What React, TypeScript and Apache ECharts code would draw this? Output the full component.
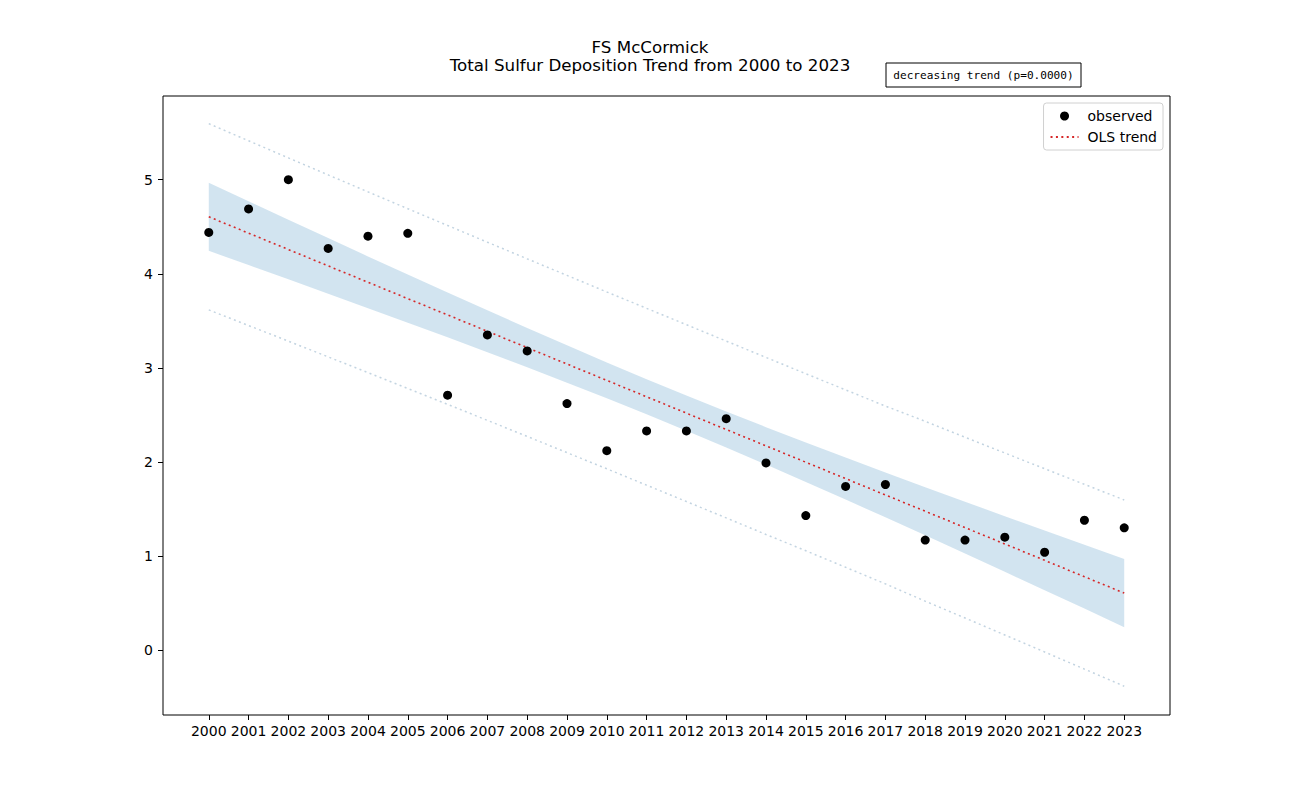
import React, { useEffect, useRef } from "react";
import * as echarts from "echarts";

const years = [2000, 2001, 2002, 2003, 2004, 2005, 2006, 2007, 2008, 2009, 2010, 2011, 2012, 2013, 2014, 2015, 2016, 2017, 2018, 2019, 2020, 2021, 2022, 2023];
const observed = [4.44, 4.69, 5.0, 4.27, 4.40, 4.43, 2.71, 3.35, 3.18, 2.62, 2.12, 2.33, 2.33, 2.46, 1.99, 1.43, 1.74, 1.76, 1.17, 1.17, 1.20, 1.04, 1.38, 1.30];
const trend = [4.606, 4.432, 4.258, 4.084, 3.910, 3.736, 3.563, 3.389, 3.215, 3.041, 2.867, 2.693, 2.519, 2.345, 2.171, 1.997, 1.823, 1.649, 1.476, 1.302, 1.128, 0.954, 0.780, 0.606];
const ciUpper = [4.968, 4.771, 4.575, 4.380, 4.185, 3.992, 3.801, 3.612, 3.424, 3.240, 3.058, 2.880, 2.706, 2.536, 2.370, 2.206, 2.046, 1.887, 1.732, 1.577, 1.424, 1.271, 1.119, 0.968];
const ciLower = [4.244, 4.093, 3.941, 3.788, 3.635, 3.480, 3.325, 3.166, 3.006, 2.842, 2.676, 2.506, 2.332, 2.154, 1.972, 1.788, 1.600, 1.411, 1.220, 1.027, 0.832, 0.637, 0.441, 0.244];
const piUpper = [5.596, 5.414, 5.232, 5.051, 4.871, 4.692, 4.514, 4.336, 4.159, 3.983, 3.807, 3.633, 3.459, 3.285, 3.111, 2.938, 2.766, 2.594, 2.432, 2.263, 2.095, 1.928, 1.762, 1.596];
const piLower = [3.616, 3.450, 3.284, 3.117, 2.949, 2.780, 2.612, 2.442, 2.271, 2.099, 1.927, 1.753, 1.579, 1.405, 1.229, 1.056, 0.880, 0.704, 0.520, 0.341, 0.161, -0.020, -0.202, -0.384];
const yTicks = [0, 1, 2, 3, 4, 5];

const titleLine1 = "FS McCormick";
const titleLine2 = "Total Sulfur Deposition Trend from 2000 to 2023";
const trendNote = "decreasing trend (p=0.0000)";

export default function App() {
  const ref = useRef<HTMLDivElement>(null);
  useEffect(() => {
    if (!ref.current) return;
    const chart = echarts.init(ref.current, null, { renderer: "svg" });
    const font = "DejaVu Sans, sans-serif";
    const pair = (arr: number[]) => years.map((y, i) => [y, arr[i]]);
    const dotted = [2, 3.4];
    chart.setOption({
      animation: false,
      backgroundColor: "#fff",
      textStyle: { fontFamily: font },
      grid: {
        left: 163,
        right: 130,
        top: 96,
        bottom: 88,
        show: true,
        borderColor: "#000",
        borderWidth: 1,
        backgroundColor: "transparent",
      },
      xAxis: {
        type: "value",
        min: 1998.85,
        max: 2024.15,
        axisLine: { show: false, onZero: false },
        splitLine: { show: false },
        axisTick: { show: true, length: 5, lineStyle: { color: "#000", width: 1 }, customValues: years },
        axisLabel: {
          color: "#000",
          fontSize: 14,
          fontFamily: font,
          margin: 9,
          customValues: years,
          formatter: (v: number) => String(v),
        },
      },
      yAxis: {
        type: "value",
        min: -0.69,
        max: 5.89,
        axisLine: { show: false, onZero: false },
        splitLine: { show: false },
        axisTick: { show: true, length: 5, lineStyle: { color: "#000", width: 1 }, customValues: yTicks },
        axisLabel: {
          color: "#000",
          fontSize: 14,
          fontFamily: font,
          margin: 10,
          customValues: yTicks,
          formatter: (v: number) => String(Math.round(v)),
        },
      },
      legend: {
        orient: "vertical",
        right: 137,
        top: 103,
        width: 119,
        padding: [6, 6, 6, 6],
        itemGap: 7,
        itemWidth: 28,
        itemHeight: 9,
        backgroundColor: "#fff",
        borderColor: "#d0d0d0",
        borderWidth: 1,
        borderRadius: 3,
        textStyle: { fontSize: 14, color: "#000", fontFamily: font, padding: [0, 0, 0, 4] },
        data: [
          { name: "observed", icon: "circle", itemStyle: { color: "#000", opacity: 1 } },
          { name: "OLS trend", itemStyle: { opacity: 0 } },
        ],
      },
      graphic: [
        {
          type: "text",
          left: "center",
          top: 38,
          style: { text: titleLine1, fontSize: 16.7, fontFamily: font, fill: "#000" },
        },
        {
          type: "text",
          left: "center",
          top: 56,
          style: { text: titleLine2, fontSize: 16.7, fontFamily: font, fill: "#000" },
        },
        {
          type: "rect",
          shape: { x: 886, y: 63, width: 195, height: 24 },
          style: { fill: "#fff", stroke: "#000", lineWidth: 1 },
        },
        {
          type: "text",
          x: 983.5,
          y: 75,
          style: {
            text: trendNote,
            fontSize: 11.1,
            fontFamily: "DejaVu Sans Mono, monospace",
            fill: "#000",
            align: "center",
            verticalAlign: "middle",
          },
        },
      ],
      series: [
        {
          type: "custom",
          name: "CI",
          silent: true,
          z: 1,
          data: years.map((y, i) => [y, ciUpper[i], ciLower[i]]),
          encode: { x: 0, y: [1, 2] },
          renderItem: (params: any, api: any) => {
            if (params.dataIndex !== 0) return null;
            const top = years.map((y, i) => api.coord([y, ciUpper[i]]));
            const bot = years.map((y, i) => api.coord([y, ciLower[i]])).reverse();
            return {
              type: "polygon",
              shape: { points: top.concat(bot) },
              style: { fill: "rgba(31,119,180,0.2)", stroke: "none" },
            };
          },
        },
        {
          type: "line",
          name: "PI upper",
          data: pair(piUpper),
          symbol: "none",
          silent: true,
          z: 2,
          lineStyle: { color: "#c3d4e1", width: 1.5, type: dotted },
        },
        {
          type: "line",
          name: "PI lower",
          data: pair(piLower),
          symbol: "none",
          silent: true,
          z: 2,
          lineStyle: { color: "#c3d4e1", width: 1.5, type: dotted },
        },
        {
          type: "line",
          name: "OLS trend",
          data: pair(trend),
          symbol: "none",
          z: 3,
          itemStyle: { color: "#d62728" },
          lineStyle: { color: "#d62728", width: 1.6, type: dotted },
        },
        {
          type: "scatter",
          name: "observed",
          data: pair(observed),
          symbol: "circle",
          symbolSize: 9,
          z: 4,
          itemStyle: { color: "#000", opacity: 1 },
        },
      ],
    });
    return () => chart.dispose();
  }, []);
  return (
    <div
      ref={ref}
      style={{ position: "fixed", left: 0, top: 0, width: 1300, height: 803 }}
    />
  );
}
